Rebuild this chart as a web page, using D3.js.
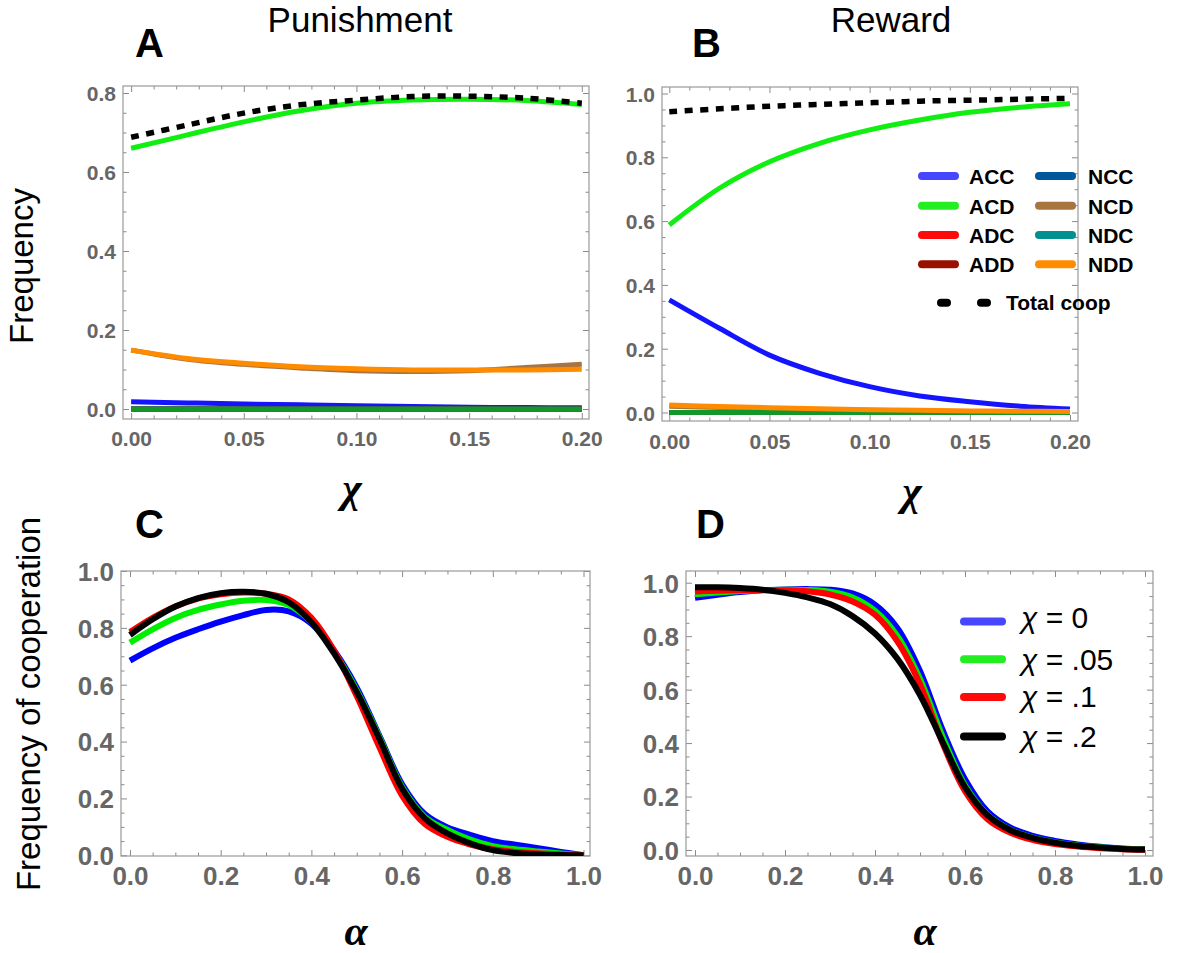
<!DOCTYPE html>
<html><head><meta charset="utf-8">
<script src="https://cdn.jsdelivr.net/npm/d3@7"></script>
<style>body{margin:0;background:#fff}svg{display:block}</style>
</head><body>
<svg id="chart" width="1179" height="953"></svg>
<script>
// ---------- DATA ----------
const strategyNames = ["ACC","ACD","ADC","ADD","NCC","NCD","NDC","NDD"];
const strategyColors = ["#1414ff","#11ee11","#ff0000","#991100","#005a9a","#a8743f","#009090","#ff8c00"];
const strategyLegendColors = ["#4646ff","#22ee22","#ff0a0a","#981000","#00589a","#a8743f","#009090","#ff8c00"];
const zeroLineColor = "#13962a";
const chiGrid = [0, 0.025, 0.05, 0.075, 0.1, 0.125, 0.15, 0.175, 0.2];

// Panel A: punishment
const punACC = [0.0185, 0.0155, 0.0127, 0.0105, 0.0084, 0.0063, 0.0045, 0.0035, 0.003];
const punACD = [0.660, 0.694, 0.727, 0.755, 0.774, 0.782, 0.784, 0.781, 0.771];
const punADC = [0, 0, 0, 0, 0, 0, 0, 0, 0];
const punADD = [0, 0, 0, 0, 0, 0, 0, 0, 0];
const punNCC = [0, 0, 0, 0, 0, 0, 0, 0, 0];
const punNCD = [0.149, 0.126, 0.113, 0.104, 0.097, 0.095, 0.097, 0.105, 0.113];
const punNDC = [0, 0, 0, 0, 0, 0, 0, 0, 0];
const punNDD = [0.149, 0.128, 0.116, 0.107, 0.102, 0.099, 0.099, 0.099, 0.1005];
const punTotal = [0.688, 0.719, 0.749, 0.770, 0.782, 0.791, 0.792, 0.787, 0.774];

// Panel B: reward
const rewACC = [0.353, 0.264, 0.180, 0.123, 0.081, 0.052, 0.034, 0.020, 0.011];
const rewACD = [0.588, 0.703, 0.786, 0.844, 0.886, 0.917, 0.941, 0.957, 0.968];
const rewADC = [0, 0, 0, 0, 0, 0, 0, 0, 0];
const rewADD = [0, 0, 0, 0, 0, 0, 0, 0, 0];
const rewNCC = [0, 0, 0, 0, 0, 0, 0, 0, 0];
const rewNCD = [0.020, 0.016, 0.012, 0.009, 0.007, 0.005, 0.003, 0.002, 0.001];
const rewNDC = [0, 0, 0, 0, 0, 0, 0, 0, 0];
const rewNDD = [0.0235, 0.019, 0.015, 0.012, 0.009, 0.007, 0.005, 0.004, 0.003];
const rewTotal = [0.943, 0.952, 0.960, 0.966, 0.971, 0.976, 0.979, 0.982, 0.985];

// Panels C, D: frequency of cooperation vs alpha
const alphaGrid = [0, 0.05, 0.1, 0.15, 0.2, 0.25, 0.3, 0.35, 0.4, 0.45, 0.5, 0.55, 0.6, 0.65, 0.7, 0.75, 0.8, 0.85, 0.9, 0.95, 1.0];
const chiLabels = ["0", ".05", ".1", ".2"];
const chiColors = ["#0000ff", "#00ee00", "#ff0000", "#000000"];
const chiLegendColors = ["#4646ff", "#22ee22", "#ff0a0a", "#000000"];

const punChi0   = [0.685,0.728,0.765,0.795,0.822,0.845,0.863,0.858,0.815,0.720,0.590,0.420,0.250,0.145,0.098,0.072,0.050,0.037,0.025,0.012,0.0];
const punChi05  = [0.748,0.795,0.835,0.863,0.882,0.895,0.898,0.880,0.820,0.715,0.580,0.415,0.240,0.135,0.089,0.055,0.032,0.021,0.013,0.006,0.0];
const punChi1   = [0.785,0.835,0.875,0.903,0.918,0.924,0.920,0.900,0.835,0.720,0.560,0.380,0.210,0.110,0.065,0.038,0.021,0.012,0.007,0.003,0.0];
const punChi2   = [0.775,0.830,0.875,0.905,0.922,0.927,0.920,0.890,0.820,0.710,0.575,0.410,0.235,0.130,0.077,0.042,0.018,0.008,0.003,0.001,0.0];

const rewChi0   = [0.944,0.955,0.965,0.972,0.975,0.976,0.974,0.960,0.918,0.830,0.670,0.450,0.265,0.145,0.085,0.053,0.034,0.021,0.012,0.006,0.003];
const rewChi05  = [0.957,0.963,0.969,0.973,0.974,0.973,0.966,0.945,0.895,0.800,0.640,0.425,0.242,0.132,0.076,0.046,0.028,0.017,0.010,0.005,0.002];
const rewChi1   = [0.967,0.970,0.972,0.973,0.972,0.968,0.956,0.930,0.880,0.780,0.620,0.400,0.220,0.115,0.065,0.038,0.022,0.013,0.007,0.003,0.001];
const rewChi2   = [0.983,0.983,0.980,0.974,0.962,0.945,0.920,0.875,0.810,0.715,0.580,0.405,0.235,0.130,0.075,0.045,0.027,0.016,0.009,0.004,0.002];

const xTicksChi = [0, 0.05, 0.1, 0.15, 0.2];
const xTicksAlpha = [0, 0.2, 0.4, 0.6, 0.8, 1.0];
const yTicksA = [0, 0.2, 0.4, 0.6, 0.8];
const yTicksB = [0, 0.2, 0.4, 0.6, 0.8, 1.0];

// ---------- DRAW ----------
const svg = d3.select("#chart");
const SANS = "'Liberation Sans', Arial, Helvetica, sans-serif";
const SERIF = "'Liberation Serif', 'Times New Roman', serif";
const tickGrey = "#8a8a8a";
const labelGrey = "#666666";

function makePanel(p) {
  const x = d3.scaleLinear().domain(p.xdom).range([p.L, p.R]);
  const y = d3.scaleLinear().domain(p.ydom).range([p.B, p.T]);
  const g = svg.append("g");

  function styleAxis(sel, keepText) {
    sel.select(".domain").remove();
    sel.selectAll(".tick line").attr("stroke", tickGrey).attr("stroke-width", 1);
    if (!keepText) sel.selectAll(".tick text").remove();
  }
  const inRange = (v, dom) => v >= Math.min(...dom) - 1e-9 && v <= Math.max(...dom) + 1e-9;
  const xMinor = p.xMinor.filter(v => inRange(v, p.xdom) && !p.xMajor.some(m => Math.abs(m - v) < 1e-9));
  const yMinor = p.yMinor.filter(v => inRange(v, p.ydom) && !p.yMajor.some(m => Math.abs(m - v) < 1e-9));

  // bottom
  const bMaj = g.append("g").attr("transform", `translate(0,${p.B})`)
    .call(d3.axisBottom(x).tickValues(p.xMajor).tickSize(-6).tickFormat(d3.format(p.xFmt)));
  styleAxis(bMaj, true);
  bMaj.selectAll(".tick text").attr("y", p.xLabOff).attr("dy", null)
    .attr("font-family", SANS).attr("font-weight", "bold").attr("font-size", p.tickFont).attr("fill", labelGrey);
  styleAxis(g.append("g").attr("transform", `translate(0,${p.B})`)
    .call(d3.axisBottom(x).tickValues(xMinor).tickSize(-3.5).tickFormat("")), false);
  // top
  styleAxis(g.append("g").attr("transform", `translate(0,${p.T})`)
    .call(d3.axisTop(x).tickValues(p.xMajor).tickSize(-6).tickFormat("")), false);
  styleAxis(g.append("g").attr("transform", `translate(0,${p.T})`)
    .call(d3.axisTop(x).tickValues(xMinor).tickSize(-3.5).tickFormat("")), false);
  // left
  const lMaj = g.append("g").attr("transform", `translate(${p.L},0)`)
    .call(d3.axisLeft(y).tickValues(p.yMajor).tickSize(-6).tickFormat(d3.format(".1f")));
  styleAxis(lMaj, true);
  lMaj.selectAll(".tick text").attr("x", -7).attr("dy", "0.36em")
    .attr("font-family", SANS).attr("font-weight", "bold").attr("font-size", p.tickFont).attr("fill", labelGrey);
  styleAxis(g.append("g").attr("transform", `translate(${p.L},0)`)
    .call(d3.axisLeft(y).tickValues(yMinor).tickSize(-3.5).tickFormat("")), false);
  // right
  styleAxis(g.append("g").attr("transform", `translate(${p.R},0)`)
    .call(d3.axisRight(y).tickValues(p.yMajor).tickSize(-6).tickFormat("")), false);
  styleAxis(g.append("g").attr("transform", `translate(${p.R},0)`)
    .call(d3.axisRight(y).tickValues(yMinor).tickSize(-3.5).tickFormat("")), false);

  // frame
  g.append("rect").attr("x", p.L).attr("y", p.T).attr("width", p.R - p.L).attr("height", p.B - p.T)
    .attr("fill", "none").attr("stroke", "#999").attr("stroke-width", 1.2);

  const clipId = "clip" + p.id;
  svg.append("clipPath").attr("id", clipId).append("rect")
    .attr("x", p.L).attr("y", p.T - 4).attr("width", p.R - p.L).attr("height", p.B - p.T + 4);
  const plot = g.append("g").attr("clip-path", `url(#${clipId})`);
  const line = d3.line().x(d => x(d[0])).y(d => y(d[1])).curve(d3.curveCatmullRom.alpha(0.5));
  p.series.forEach(s => {
    plot.append("path").datum(p.grid.map((v, i) => [v, s.values[i]]))
      .attr("d", line).attr("fill", "none").attr("stroke", s.color)
      .attr("stroke-width", s.width).attr("stroke-dasharray", s.dash || null)
      .attr("stroke-linecap", "butt").attr("stroke-linejoin", "round");
  });
  return { x, y, g };
}

function strategySeries(vals, total) {
  const list = vals.map((v, i) => ({ values: v, color: strategyColors[i], width: 5 }));
  // the series that sit on zero overlap; the top one shows as dark green in the figure
  list[6].color = zeroLineColor;
  list.push({ values: total, color: "#000", width: 5.5, dash: "8,7.5" });
  return list;
}

const rangeStep = (a, b, s) => d3.range(Math.round((b - a) / s) + 1).map(i => +(a + i * s).toFixed(4));

makePanel({
  id: "A", L: 123, R: 589, T: 86, B: 419,
  xdom: [-0.0036, 0.2032], ydom: [-0.0253, 0.8177],
  xMajor: xTicksChi, xMinor: rangeStep(0, 0.2, 0.01), xFmt: ".2f",
  yMajor: yTicksA, yMinor: rangeStep(0, 0.8, 0.05),
  tickFont: 21, xLabOff: 27, grid: chiGrid,
  series: strategySeries([punACC, punACD, punADC, punADD, punNCC, punNCD, punNDC, punNDD], punTotal)
});
makePanel({
  id: "B", L: 662, R: 1078, T: 87, B: 421,
  xdom: [-0.00364, 0.204], ydom: [-0.0266, 1.0204],
  xMajor: xTicksChi, xMinor: rangeStep(0, 0.2, 0.01), xFmt: ".2f",
  yMajor: yTicksB, yMinor: rangeStep(0, 1, 0.05),
  tickFont: 21, xLabOff: 28, grid: chiGrid,
  series: strategySeries([rewACC, rewACD, rewADC, rewADD, rewNCC, rewNCD, rewNDC, rewNDD], rewTotal)
});
const chiSeries = arr => arr.map((v, i) => ({ values: v, color: chiColors[i], width: 6 }));
makePanel({
  id: "C", L: 121, R: 590, T: 571, B: 856,
  xdom: [-0.0198, 1.0143], ydom: [-0.0025, 1.0],
  xMajor: xTicksAlpha, xMinor: rangeStep(0, 1, 0.05), xFmt: ".1f",
  yMajor: yTicksB, yMinor: rangeStep(0, 1, 0.05),
  tickFont: 26, xLabOff: 29, grid: alphaGrid,
  series: chiSeries([punChi0, punChi05, punChi1, punChi2])
});
makePanel({
  id: "D", L: 686, R: 1153, T: 571, B: 856,
  xdom: [-0.02, 1.0178], ydom: [-0.0224, 1.0438],
  xMajor: xTicksAlpha, xMinor: rangeStep(0, 1, 0.05), xFmt: ".1f",
  yMajor: yTicksB, yMinor: rangeStep(0, 1, 0.05),
  tickFont: 26, xLabOff: 29, grid: alphaGrid,
  series: chiSeries([rewChi0, rewChi05, rewChi1, rewChi2])
});

// ---------- TEXT ----------
function txt(x, y, s, o) {
  const t = svg.append("text").attr("x", x).attr("y", y).text(s)
    .attr("font-family", o.family || SANS).attr("font-size", o.size)
    .attr("font-weight", o.weight || "normal").attr("font-style", o.style || "normal")
    .attr("text-anchor", o.anchor || "start").attr("fill", o.fill || "#000");
  if (o.rotate) t.attr("transform", `rotate(-90,${x},${y})`);
  return t;
}
txt(360, 32, "Punishment", { size: 35, anchor: "middle" });
txt(891, 32, "Reward", { size: 35, anchor: "middle" });
txt(135, 57, "A", { size: 40, weight: "bold" });
txt(692, 57, "B", { size: 40, weight: "bold" });
txt(135, 538, "C", { size: 40, weight: "bold" });
txt(696, 538, "D", { size: 40, weight: "bold" });
txt(33, 266, "Frequency", { size: 33, anchor: "middle", rotate: true });
txt(40, 704, "Frequency of cooperation", { size: 33, anchor: "middle", rotate: true });
txt(352, 502, "χ", { size: 42, family: SERIF, weight: "bold", style: "italic", anchor: "middle" });
txt(912, 505, "χ", { size: 42, family: SERIF, weight: "bold", style: "italic", anchor: "middle" });
txt(356, 945, "α", { size: 42, family: SERIF, weight: "bold", style: "italic", anchor: "middle" });
txt(925, 945, "α", { size: 42, family: SERIF, weight: "bold", style: "italic", anchor: "middle" });

// ---------- LEGEND B ----------
const legB = svg.append("g");
const rowYB = [176, 205.7, 235, 264.3];
strategyNames.forEach((n, i) => {
  const col = Math.floor(i / 4), row = i % 4;
  const x0 = col === 0 ? 918 : 1035;
  const tx = col === 0 ? 969 : 1088;
  legB.append("line").attr("x1", x0 + 4).attr("x2", x0 + 37).attr("y1", rowYB[row]).attr("y2", rowYB[row])
    .attr("stroke", strategyLegendColors[i]).attr("stroke-width", 8).attr("stroke-linecap", "round");
  legB.append("text").attr("x", tx).attr("y", rowYB[row] + 8).text(n)
    .attr("font-family", SANS).attr("font-weight", "bold").attr("font-size", 21).attr("fill", "#000");
});
legB.append("line").attr("x1", 941).attr("x2", 988).attr("y1", 302.7).attr("y2", 302.7)
  .attr("stroke", "#000").attr("stroke-width", 8).attr("stroke-linecap", "round").attr("stroke-dasharray", "6,34");
legB.append("text").attr("x", 1006).attr("y", 310).text("Total coop")
  .attr("font-family", SANS).attr("font-weight", "bold").attr("font-size", 21).attr("fill", "#000");

// ---------- LEGEND D ----------
const legD = svg.append("g");
const rowYD = [621.5, 659.3, 697, 736.5];
const rowTD = [628, 670, 707, 747];
chiLabels.forEach((lab, i) => {
  legD.append("line").attr("x1", 964).attr("x2", 1002).attr("y1", rowYD[i]).attr("y2", rowYD[i])
    .attr("stroke", chiLegendColors[i]).attr("stroke-width", 8).attr("stroke-linecap", "round");
  const t = legD.append("text").attr("x", 1021).attr("y", rowTD[i])
    .attr("font-family", SANS).attr("font-size", 30).attr("fill", "#000");
  t.append("tspan").attr("font-style", "italic").text("χ");
  t.append("tspan").text(" = " + lab);
});
</script>
</body></html>
